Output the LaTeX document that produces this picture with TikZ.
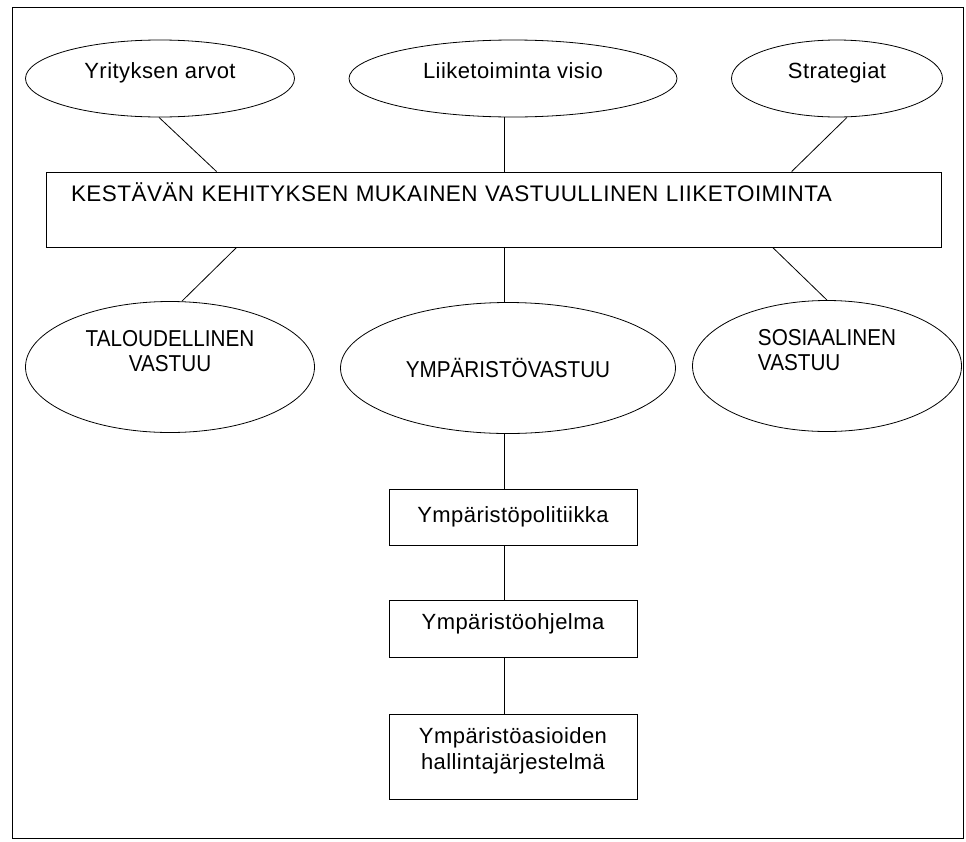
\documentclass[tikz,border=0pt]{standalone}
\usepackage{fontspec}
\setmainfont{Liberation Sans}
\newfontfamily\spacedfont{Liberation Sans}[LetterSpace=2]
\newfontfamily\narrowfont{Liberation Sans}[FakeStretch=0.9]
\usetikzlibrary{shapes.geometric, positioning}

\begin{document}
\begin{tikzpicture}[x=1pt, y=-1pt, line width=0.8pt,
    every node/.style={font=\spacedfont\fontsize{22}{26}\selectfont, inner sep=2pt},
    aim/.style={draw, ellipse, minimum height=77pt, text depth=15pt},
    area/.style={draw, ellipse, minimum height=131pt, font=\narrowfont\fontsize{23}{25}\selectfont},
    level/.style={draw, rectangle, minimum width=248pt, align=center}]

    \useasboundingbox (0,0) rectangle (966,841);
    \draw[line width=1pt] (12,7) rectangle (963,838);
    \coordinate (spine) at (504,0);

    %define the aims on top
    \node[aim, minimum width=269pt] (arvot) at (160,78.5) {Yrityksen arvot};
    \node[aim, minimum width=328pt] (visio) at (513,78.5) {Liiketoiminta visio};
    \node[aim, minimum width=211pt] (strat) at (837,78.5) {Strategiat};

    %define the main box
    \node[draw, rectangle, minimum height=75pt, text width=845pt, inner xsep=25pt,
          align=left, text depth=35pt, font=\spacedfont\fontsize{22.5}{26}\selectfont]
          (kehitys) at (493.5,209.5)
          {KESTÄVÄN KEHITYKSEN MUKAINEN VASTUULLINEN LIIKETOIMINTA};

    %define the three areas
    \node[area, minimum width=289pt, align=center, text depth=32pt] (talous) at (170,367) {TALOUDELLINEN\\VASTUU};
    \node[area, minimum width=335pt] (ymparisto) at (508,368) {YMPÄRISTÖVASTUU};
    \node[area, minimum width=269pt, align=left, text depth=32pt] (sosiaali) at (827,366) {SOSIAALINEN\\VASTUU};

    %define the levels below
    \node[level, minimum height=56pt] (poli) at (513,517) {Ympäristöpolitiikka};
    \node[level, minimum height=57pt, text depth=15pt] (ohjelma) [below=55pt of poli] {Ympäristöohjelma};
    \node[level, minimum height=85pt, text depth=18pt] (hallinta) [below=56pt of ohjelma] {Ympäristöasioiden\\hallintajärjestelmä};

    %define the links
    \draw ([xshift=-1pt]arvot.south) -- ([xshift=171pt]kehitys.north west);
    \draw (visio.south -| spine) -- (kehitys.north -| spine);
    \draw ([xshift=10pt]strat.south) -- ([xshift=746pt]kehitys.north west);
    \draw ([xshift=191pt]kehitys.south west) -- ([xshift=12pt]talous.north);
    \draw (kehitys.south -| spine) -- (ymparisto.north -| spine);
    \draw ([xshift=727pt]kehitys.south west) -- (sosiaali.north);
    \draw (ymparisto.south -| spine) -- (poli.north -| spine);
    \draw (poli.south -| spine) -- (ohjelma.north -| spine);
    \draw (ohjelma.south -| spine) -- (hallinta.north -| spine);
\end{tikzpicture}
\end{document}
